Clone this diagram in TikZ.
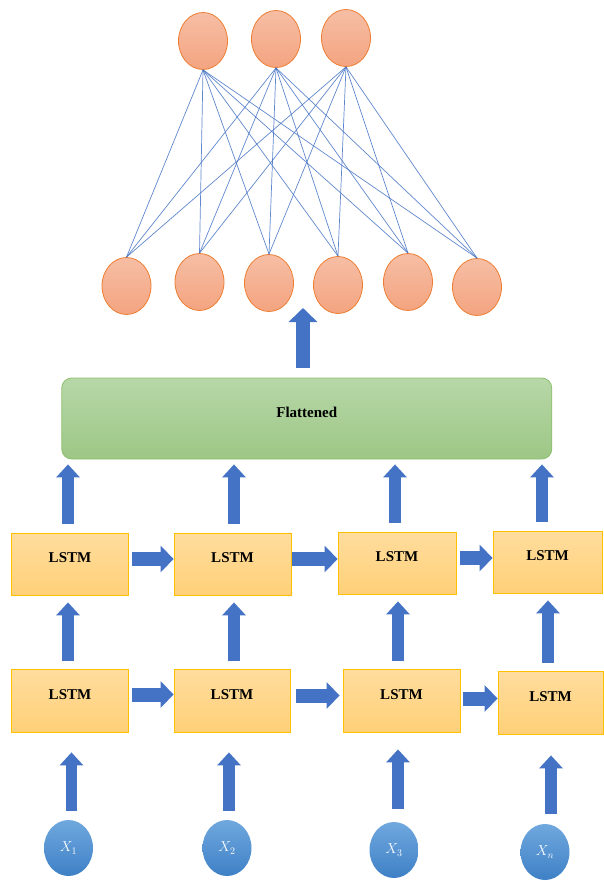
\documentclass[tikz,border=0pt]{standalone}
\usepackage{fontspec}
\setmainfont{Liberation Serif}
\usepackage{amsmath}
\usepackage{tikz}
\usetikzlibrary{arrows.meta,calc,positioning,shapes.geometric}
\definecolor{linkblue}{RGB}{68,114,196}
\definecolor{neurontop}{RGB}{246,190,165}
\definecolor{neuronbot}{RGB}{244,164,128}
\definecolor{neuronline}{RGB}{237,125,49}
\definecolor{lstmtop}{RGB}{255,221,158}
\definecolor{lstmbot}{RGB}{255,208,120}
\definecolor{lstmline}{RGB}{255,192,0}
\definecolor{flattop}{RGB}{183,215,168}
\definecolor{flatbot}{RGB}{157,199,133}
\definecolor{flatline}{RGB}{140,192,110}
\definecolor{inputtop}{RGB}{112,168,222}
\definecolor{inputbot}{RGB}{62,128,198}
\tikzset{
    neuron/.style={ellipse, draw=neuronline, line width=0.8pt, top color=neurontop,
        bottom color=neuronbot, minimum width=49pt, minimum height=57pt, inner sep=0pt},
    link/.style={draw=linkblue, line width=0.7pt, opacity=0.85},
    lstmbox/.style={rectangle, draw=lstmline, line width=0.8pt, top color=lstmtop,
        bottom color=lstmbot, minimum height=62pt, inner sep=0pt, text depth=12pt,
        font=\fontsize{15}{18}\selectfont\bfseries},
    flatbox/.style={rectangle, rounded corners=10pt, draw=flatline, line width=0.8pt,
        top color=flattop, bottom color=flatbot, minimum width=490pt, minimum height=81pt,
        inner sep=0pt, text depth=12pt, font=\fontsize{15}{18}\selectfont\bfseries},
    inputnode/.style={ellipse, top color=inputtop, bottom color=inputbot, text=white,
        minimum width=49pt, minimum height=56pt, inner sep=0pt, font=\fontsize{14}{16}\selectfont},
    uparrow/.style={draw=linkblue, line width=11.5pt,
        -{Triangle[width=23pt,length=13pt]}},
    rightarrow/.style={draw=linkblue, line width=14pt,
        -{Triangle[width=26pt,length=13pt]}},
}
\begin{document}
\begin{tikzpicture}[x=1pt,y=1pt,yscale=-1,xscale=1]
    \useasboundingbox (0,0) rectangle (603,881);

    % output layer
    \node[neuron] (o1) at (203,41) {};
    \node[neuron] (o2) at (276,39) {};
    \node[neuron] (o3) at (346,38) {};
    % hidden layer
    \node[neuron] (h1) at (126.5,286) {};
    \node[neuron] (h2) at (199.5,282) {};
    \node[neuron] (h3) at (269,283) {};
    \node[neuron] (h4) at (338,285) {};
    \node[neuron] (h5) at (408,282) {};
    \node[neuron] (h6) at (477,287) {};
    % dense links
    \foreach \o in {1,2,3}
        \foreach \h in {1,...,6}
            \draw[link] (o\o.south) -- (h\h.north);

    % Flattened layer
    \node[flatbox] (flat) at (306.75,418.5) {Flattened};
    \coordinate (flatup) at (303,308);
    \draw[uparrow, line width=14pt, -{Triangle[width=28pt,length=14pt]}, shorten <=10pt]
        (flat.north -| flatup) -- (flatup);

    % upper LSTM row
    \node[lstmbox, minimum width=116.5pt] (u1) at (70,564) {LSTM};
    \node[lstmbox, minimum width=117pt] (u2) at (232.5,564) {LSTM};
    \node[lstmbox, minimum width=118pt] (u3) at (397,563) {LSTM};
    \node[lstmbox, minimum width=109pt] (u4) at (547.5,562) {LSTM};
    % lower LSTM row
    \node[lstmbox, minimum width=116.5pt, minimum height=63pt] (d1) at (70,700.5) {LSTM};
    \node[lstmbox, minimum width=116pt, minimum height=63pt] (d2) at (232,700.5) {LSTM};
    \node[lstmbox, minimum width=117pt, minimum height=63pt] (d3) at (401.5,700.5) {LSTM};
    \node[lstmbox, minimum width=105pt, minimum height=63pt] (d4) at (550.5,702.5) {LSTM};

    % inputs
    \node[inputnode] (x1) at (68.5,848) {$X_1$};
    \node[inputnode] (x2) at (227,848) {$X_2$};
    \node[inputnode] (x3) at (394,850) {$X_3$};
    \node[inputnode] (x4) at (545,852) {$X_n$};

    % upper row into Flattened
    \draw[uparrow, shorten <=9pt, shorten >=5pt] ([xshift=-2pt]u1.north) -- ([xshift=-2pt]u1.north |- flat.south);
    \draw[uparrow, shorten <=9pt, shorten >=5pt] ([xshift=1.5pt]u2.north) -- ([xshift=1.5pt]u2.north |- flat.south);
    \draw[uparrow, shorten <=9pt, shorten >=5pt] ([xshift=-2pt]u3.north) -- ([xshift=-2pt]u3.north |- flat.south);
    \draw[uparrow, shorten <=9pt, shorten >=5pt] ([xshift=-5.5pt]u4.north) -- ([xshift=-5.5pt]u4.north |- flat.south);

    % lower row into upper row
    \draw[uparrow, shorten <=8pt, shorten >=7pt] ([xshift=-2pt]d1.north) -- ([xshift=-2pt]d1.north |- u1.south);
    \draw[uparrow, shorten <=8pt, shorten >=7pt] ([xshift=2pt]d2.north) -- ([xshift=2pt]d2.north |- u2.south);
    \draw[uparrow, shorten <=8pt, shorten >=7pt] ([xshift=-3.5pt]d3.north) -- ([xshift=-3.5pt]d3.north |- u3.south);
    \draw[uparrow, shorten <=8pt, shorten >=7pt] ([xshift=-2.5pt]d4.north) -- ([xshift=-2.5pt]d4.north |- u4.south);

    % inputs into lower row
    \draw[uparrow, shorten <=9pt, shorten >=20pt] ([xshift=3pt]x1.north) -- ([xshift=3pt]x1.north |- d1.south);
    \draw[uparrow, shorten <=9pt, shorten >=20pt] ([xshift=2pt]x2.north) -- ([xshift=2pt]x2.north |- d2.south);
    \draw[uparrow, shorten <=13pt, shorten >=17pt] ([xshift=4pt]x3.north) -- ([xshift=4pt]x3.north |- d3.south);
    \draw[uparrow, shorten <=10pt, shorten >=21pt] ([xshift=6pt]x4.north) -- ([xshift=6pt]x4.north |- d4.south);

    % recurrent links, upper row
    \draw[rightarrow, shorten <=3pt] ([yshift=-5pt]u1.east) -- ([yshift=-5pt]u1.east -| u2.west);
    \draw[rightarrow, shorten <=1pt] ([yshift=-5pt]u2.east) -- ([yshift=-5pt]u2.east -| u3.west);
    \draw[rightarrow, shorten <=4pt] ([yshift=-5pt]u3.east) -- ([yshift=-5pt]u3.east -| u4.west);
    % recurrent links, lower row
    \draw[rightarrow, shorten <=3pt] ([yshift=-6pt]d1.east) -- ([yshift=-6pt]d1.east -| d2.west);
    \draw[rightarrow, shorten <=6pt, shorten >=3pt] ([yshift=-5pt]d2.east) -- ([yshift=-5pt]d2.east -| d3.west);
    \draw[rightarrow, shorten <=3pt] ([yshift=-2pt]d3.east) -- ([yshift=-2pt]d3.east -| d4.west);
\end{tikzpicture}
\end{document}
